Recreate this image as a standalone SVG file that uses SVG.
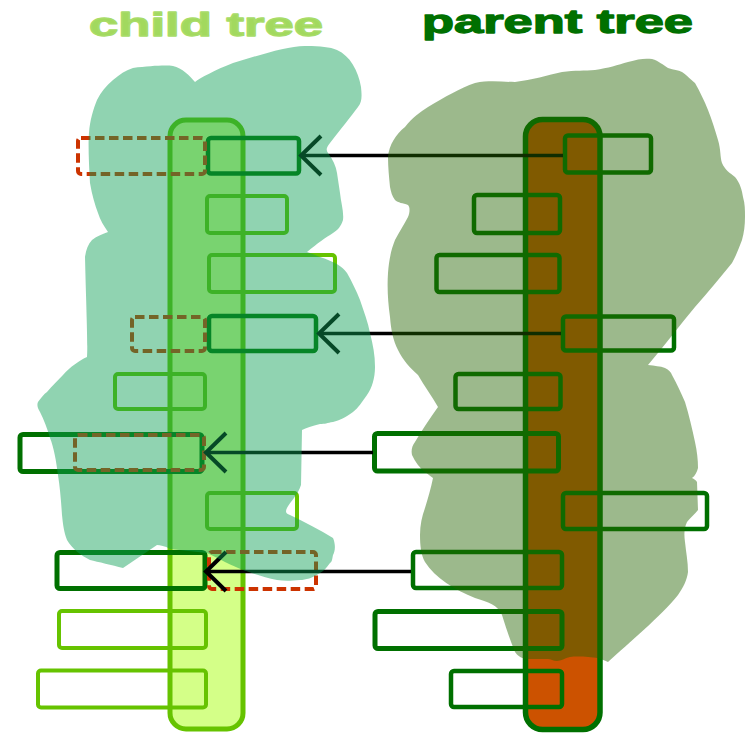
<svg xmlns="http://www.w3.org/2000/svg" width="750" height="750" viewBox="0 0 750 750">
<defs>
<style>
.title{font-family:"Liberation Sans",Arial,sans-serif;font-weight:bold;font-size:33px;stroke-width:1.3;stroke-linejoin:round}
.ct{fill:#a2d95e;stroke:#a8dc68}
.pt{fill:#007000;stroke:#007000}
.cn{fill:none;stroke:#66c300;stroke-width:4}
.pn{fill:none;stroke:#007000;stroke-width:4.5}
.pw{fill:none;stroke:#007000;stroke-width:5}
.dn{fill:none;stroke:#cc3300;stroke-width:4;stroke-dasharray:9.5,4.5}
.conn{fill:none;stroke:#000;stroke-width:3.5;marker-end:url(#arr)}
</style>
<marker id="arr" markerUnits="userSpaceOnUse" markerWidth="40" markerHeight="60" viewBox="-30 -30 40 60" refX="0" refY="0" orient="auto" overflow="visible">
<path d="M-20,-19.5 L0,0 L-20,19.5" fill="none" stroke="#000" stroke-width="4"/>
</marker>
</defs>

<g id="child-trunk"><rect x="170" y="120" width="73" height="609" rx="16" fill="#d4ff88" stroke="#66c300" stroke-width="5"/></g>
<g id="parent-trunk"><rect x="525.5" y="119.5" width="74.5" height="610" rx="17" fill="#cc5200" stroke="#007000" stroke-width="5.5"/></g>

<g id="c1"><rect class="pn" x="208" y="138" width="91" height="35.5" rx="3"/></g>
<g id="c1d"><rect class="dn" x="78" y="138" width="127" height="36" rx="3"/></g>
<g id="c2"><rect class="cn" x="207" y="196" width="80" height="37" rx="3"/></g>
<g id="c3"><rect class="cn" x="209" y="255" width="126" height="37" rx="3"/></g>
<g id="c4"><rect class="pn" x="209" y="316" width="107" height="35" rx="3"/></g>
<g id="c4d"><rect class="dn" x="132" y="317" width="73" height="34" rx="3"/></g>
<g id="c5"><rect class="cn" x="115" y="374" width="90" height="35" rx="3"/></g>
<g id="c6"><rect class="pw" x="20" y="434.5" width="182" height="37" rx="3"/></g>
<g id="c6d"><rect class="dn" x="75" y="435" width="129" height="35" rx="3"/></g>
<g id="c7"><rect class="cn" x="207" y="493" width="90" height="36" rx="3"/></g>
<g id="c8"><rect class="pw" x="57" y="552.5" width="148" height="36" rx="3"/></g>
<g id="c8d"><rect class="dn" x="209" y="552" width="107" height="37" rx="3"/></g>
<g id="c9"><rect class="cn" x="59" y="611" width="147" height="37" rx="3" stroke-width="4.5"/></g>
<g id="c10"><rect class="cn" x="38" y="670.5" width="168" height="37" rx="3" stroke-width="4.5"/></g>

<g id="p1"><rect class="pn" x="565" y="135.5" width="86" height="37" rx="3"/></g>
<g id="p2"><rect class="pn" x="474" y="195" width="86" height="38" rx="3"/></g>
<g id="p3"><rect class="pn" x="436.5" y="255" width="123" height="37" rx="3"/></g>
<g id="p4"><rect class="pn" x="563" y="316.5" width="111" height="34" rx="3"/></g>
<g id="p5"><rect class="pn" x="455.5" y="374" width="105" height="35" rx="3"/></g>
<g id="p6"><rect class="pw" x="374.5" y="433.5" width="184" height="37.5" rx="3"/></g>
<g id="p7"><rect class="pn" x="563" y="493" width="144" height="36" rx="3"/></g>
<g id="p8"><rect class="pn" x="413" y="552" width="149" height="36" rx="3"/></g>
<g id="p9"><rect class="pw" x="375" y="611.5" width="187" height="37" rx="3"/></g>
<g id="p10"><rect class="pn" x="451" y="671" width="111" height="36" rx="3"/></g>

<g id="connectors">
<line class="conn" x1="563" y1="155.5" x2="301" y2="155.5"/>
<line class="conn" x1="561" y1="333.5" x2="319" y2="333.5"/>
<line class="conn" x1="373" y1="452.5" x2="206" y2="452.5"/>
<line class="conn" x1="411" y1="571.5" x2="206" y2="571.5"/>
</g>

<g id="child-blob">
<path fill="#0ea055" fill-opacity="0.46" d="M133,68 C150,66 165,65 173,66 C182,68 190,76 195,82 C200,78 215,70 233,63 C260,55 290,45 307,46 C320,46 330,47 337,50 C350,56 358,70 361,87 C362,97 362,102 358,107 C352,115 340,130 330,143 C326,148 326,150 328,153 C333,160 336,166 337,173 L340,193 C341,203 344,212 343,220 C341,226 338,230 333,233 C325,238 318,243 307,252 C312,254 316,255 320,257 C335,262 342,266 347,273 C352,282 356,290 360,300 C364,312 368,322 370,333 C373,345 375,355 375,367 C375,378 372,388 367,395 C362,402 358,408 353,412 C345,418 340,420 333,422 C327,423 325,424 320,424 C312,426 306,428 302,430 L301,485 C298,495 290,502 287,508 C285,512 286,514 290,515 C305,522 320,530 333,538 C336,545 335,552 333,555 C332,560 332,562 330,563 C326,568 324,571 320,573 C312,578 306,580 300,580 C290,581 284,581 277,580 C265,578 255,574 243,570 C232,566 218,558 207,553 L170,549 C165,546 160,545 157,545 L123,568 C112,565 98,562 90,560 C82,556 72,549 67,540 C64,532 63,525 62,515 C61,500 60,488 58,475 C56,460 54,448 50,438 C47,428 44,420 40,412 C37,407 37,404 38,402 C41,398 44,394 47,392 C52,386 58,380 63,375 C70,367 80,360 87,357 C88,345 86,300 85,257 C86,250 88,244 92,240 C97,236 103,234 108,232 C104,226 100,220 98,213 C95,205 92,195 90,183 C89,165 88,145 89,133 C90,120 93,110 97,100 C101,92 106,86 113,80 C120,74 126,70 133,68 Z"/>
</g>

<g id="parent-blob">
<path fill="#236400" fill-opacity="0.45" d="M405,127 C412,118 420,112 428,107 C445,97 460,88 475,83 C490,80 502,82 515,82 C532,80 548,75 562,72 C575,70 585,71 595,70 C608,68 618,65 628,62 C638,59 645,58 652,59 C659,61 663,65 668,68 C674,70 678,70 682,72 C688,76 691,80 695,83 C700,92 704,100 708,110 C712,120 715,130 718,140 C721,150 720,157 722,163 C725,170 730,173 735,177 C740,183 742,190 743,197 C745,204 745,210 745,217 C745,225 744,233 742,240 C739,248 736,256 732,263 C720,278 708,292 695,307 C680,325 665,345 648,365 C655,366 660,366 665,368 C669,370 671,372 672,375 C677,384 681,393 685,402 C689,415 692,428 695,442 C697,451 698,460 698,468 C697,472 695,476 692,478 C694,479 696,480 697,482 L698,510 C695,514 690,518 687,522 C684,528 684,535 685,542 C686,552 688,562 688,572 C687,580 683,588 678,595 C660,617 630,642 608,662 C604,660 601,659 598,658 C590,657 578,656 570,657 C565,658 561,661 557,661 C553,661 551,659 548,659 C540,659 532,659 527,659 C520,658 517,655 515,652 C510,640 506,628 502,615 C498,605 488,602 475,598 C455,590 435,578 425,562 C421,555 420,545 420,535 C420,525 422,516 425,508 C428,498 431,488 433,478 C430,476 428,474 425,472 C420,468 415,462 412,455 C411,450 412,446 415,442 C422,430 430,418 438,407 C432,396 424,386 418,375 C410,368 403,360 398,350 C393,340 391,330 390,317 C388,302 387,288 388,273 C389,260 391,250 395,240 C399,232 404,225 408,217 C410,212 410,207 408,205 C403,203 398,203 395,200 C392,196 391,192 390,187 C389,177 388,167 388,157 C389,145 396,134 405,127 Z"/>
</g>

<g id="titles">
<text class="title ct" x="89" y="36" textLength="234" lengthAdjust="spacingAndGlyphs">child tree</text>
<text class="title pt" x="422" y="33" textLength="271" lengthAdjust="spacingAndGlyphs">parent tree</text>
</g>
</svg>
